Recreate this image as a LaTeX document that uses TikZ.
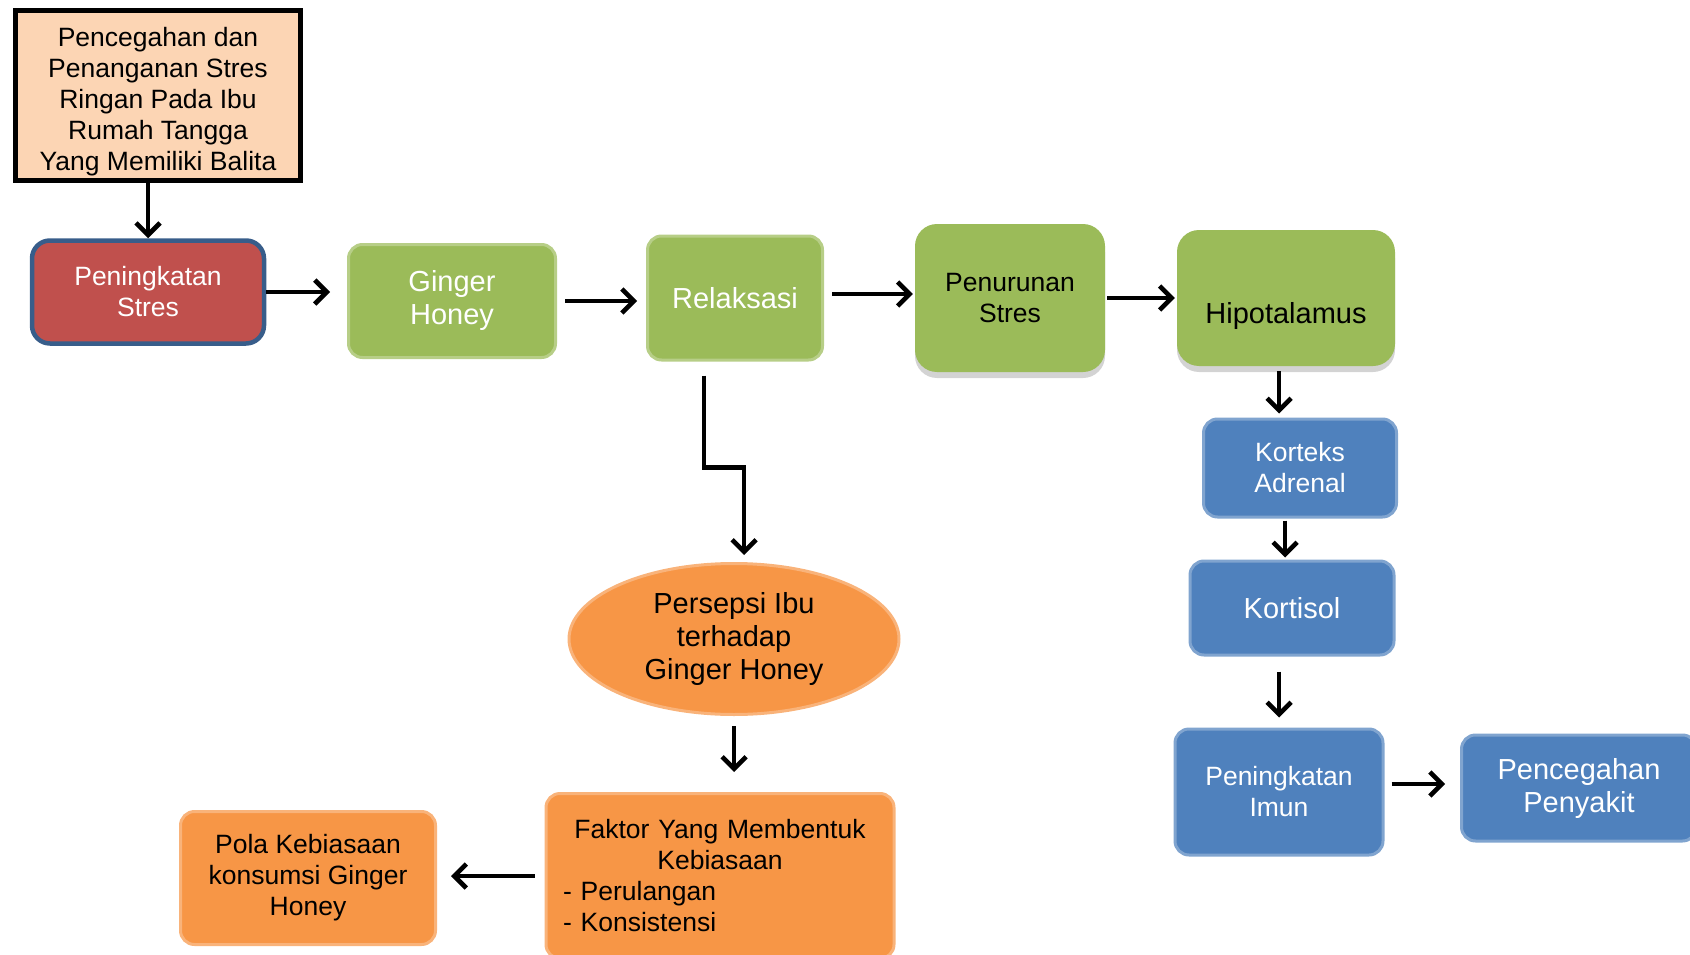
\documentclass[tikz,border=0pt]{standalone}
\usepackage{fontspec}
\setmainfont{Liberation Sans}
\usetikzlibrary{arrows.meta,positioning,shapes.geometric,shadows}
\definecolor{hijau}{HTML}{9BBB59}
\definecolor{biru}{HTML}{4F81BD}
\definecolor{oranye}{HTML}{F79646}
\definecolor{merah}{HTML}{C0504D}
\definecolor{garis}{HTML}{385D8A}
\definecolor{krem}{HTML}{FCD5B4}

\begin{document}
\begin{tikzpicture}[x=1pt, y=-1pt,
    kecil/.style={font=\fontsize{26.5}{31}\selectfont},
    besar/.style={font=\fontsize{29}{33}\selectfont},
    kotak/.style={rounded corners=14pt, align=center, inner sep=2pt},
    hijaubox/.style={kotak, fill=hijau, draw=hijau!72, line width=3pt, text=white},
    bayangbox/.style={kotak, rounded corners=22pt, fill=hijau,
                drop shadow={shadow xshift=0pt, shadow yshift=-6pt, opacity=0.35}},
    birubox/.style={kotak, fill=biru, draw=biru!72, line width=3pt, text=white},
    oranyebox/.style={kotak, fill=oranye, draw=oranye!72, line width=3pt},
    arr/.style={-{Straight Barb[length=12pt,width=24pt]}, line width=4.6pt}
  ]
    \useasboundingbox (0,0) rectangle (1690,955);

    \node[kecil, draw, line width=5pt, fill=krem, minimum width=285pt, minimum height=170pt,
          align=center] (awal) at (158,96) {\rule{0pt}{31pt}Pencegahan dan\\Penanganan Stres\\Ringan Pada Ibu\\Rumah Tangga\\Yang Memiliki Balita};
    \node[kotak, kecil, rounded corners=18pt, fill=merah, draw=garis, line width=4.5pt, text=white,
          minimum width=232pt, minimum height=103pt] (stres) at (148,292) {Peningkatan\\Stres};
    \node[hijaubox, besar, minimum width=207pt, minimum height=113pt] (ginger) at (452,301) {Ginger\\Honey};
    \node[hijaubox, besar, minimum width=175pt, minimum height=124pt] (relaks) at (735,298) {Relaksasi};
    \node[bayangbox, kecil, minimum width=190pt, minimum height=148pt] (turun) at (1010,298) {Penurunan\\Stres};
    \node[bayangbox, besar, minimum width=218pt, minimum height=136pt] (hipo) at (1286,298) {\strut\\Hipotalamus};

    \node[birubox, kecil, minimum width=193pt, minimum height=98pt] (korteks) at (1300,468) {Korteks\\Adrenal};
    \node[birubox, besar, minimum width=204pt, minimum height=94pt] (kortisol) at (1292,608) {Kortisol};
    \node[birubox, kecil, minimum width=208pt, minimum height=126pt] (imun) at (1279,792) {Peningkatan\\Imun};
    \node[birubox, besar, minimum width=235pt, minimum height=106pt] (cegah) at (1579,788) {Pencegahan\\Penyakit};

    \node[oranyebox, ellipse, besar, minimum width=330pt, minimum height=151pt] (persepsi) at (734,639) {Persepsi Ibu\\terhadap\\Ginger Honey};
    \node[oranyebox, kecil, minimum width=348pt, minimum height=165pt, text width=314pt, align=left] (faktor) at (720,876)
      {\centering Faktor Yang Membentuk\\Kebiasaan\par\raggedright - Perulangan\\- Konsistensi};
    \node[oranyebox, kecil, minimum width=255pt, minimum height=133pt] (pola) at (308,878) {Pola Kebiasaan\\konsumsi Ginger\\Honey};

    \draw[arr] (awal.south -| stres.north) -- (stres.north);
    \draw[arr, shorten >=17pt] (stres.east) -- (stres.east -| ginger.west);
    \draw[arr, shorten <=8pt, shorten >=9pt] (ginger.east) -- (ginger.east -| relaks.west);
    \draw[arr, shorten <=8pt, shorten >=2pt] ([yshift=4pt]relaks.east) -- ([yshift=4pt]relaks.east -| turun.west);
    \draw[arr, shorten <=2pt, shorten >=2pt] (turun.east) -- (turun.east -| hipo.west);
    \draw[arr, shorten <=5pt, shorten >=4pt] ([xshift=-7pt]hipo.south) -- ([xshift=-7pt]hipo.south |- korteks.north);
    \draw[arr, shorten <=2pt, shorten >=2pt] ([xshift=-7pt]kortisol.north |- korteks.south) -- ([xshift=-7pt]kortisol.north);
    \draw[arr, shorten <=15pt, shorten >=10pt] (kortisol.south -| imun.north) -- (imun.north);
    \draw[arr, shorten <=7pt, shorten >=15pt] ([yshift=8pt]imun.east) -- ([yshift=8pt]imun.east -| cegah.west);
    \draw[arr, shorten <=14pt, shorten >=7pt] ([xshift=-31pt]relaks.south) -- ++(0,106) -| ([xshift=10pt]persepsi.north);
    \draw[arr, shorten <=10pt, shorten >=20pt] (persepsi.south) -- (persepsi.south |- faktor.north);
    \draw[arr, shorten <=10pt, shorten >=14pt] (faktor.west) -- (faktor.west -| pola.east);
  \end{tikzpicture}
\end{document}
